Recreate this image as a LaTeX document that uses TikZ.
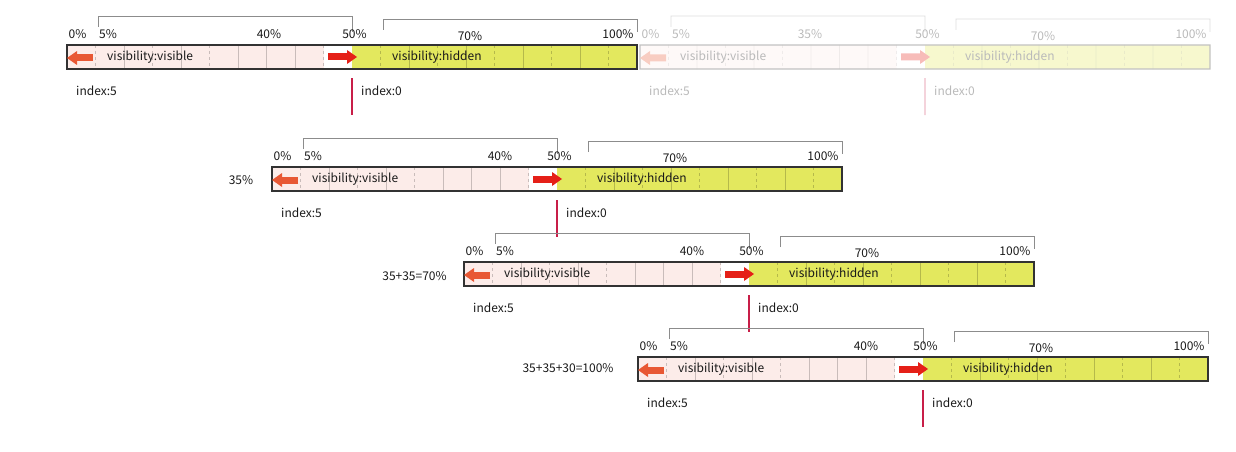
\documentclass[tikz,border=0pt]{standalone}
\usepackage{fontspec}
\setmainfont{Noto Sans CJK SC}
\usepackage{tikz}
\usetikzlibrary{arrows.meta, positioning}
\definecolor{visbg}{RGB}{252,236,233}
\definecolor{hidbg}{RGB}{227,232,94}
\definecolor{outred}{RGB}{232,88,52}
\definecolor{inred}{RGB}{229,32,24}
\definecolor{cutred}{RGB}{200,30,72}
\definecolor{framec}{RGB}{50,50,50}
\definecolor{bracec}{RGB}{140,140,140}

% one bar: name, x0, y0, middle label, its x offset
\newcommand{\visrow}[5]{%
\begin{scope}[shift={(#2,#3)}]
  % ---- fills ----
  \fill[visbg] (0,0) rectangle (256.5,24);
  \fill[hidbg] (285,0) rectangle (570,24);
  % ---- grid ----
  \foreach \k in {2,4,6,7,8,12,14,16,18}
    \draw[tick] (\k*28.5,0) -- (\k*28.5,24);
  \foreach \k in {1,3,5,9,11,13,15,17,19}
    \draw[tick, dashed] (\k*28.5,0) -- (\k*28.5,24);
  \draw[box] (0,0) rectangle (570,24);
  % ---- brackets ----
  \draw[brace] (31,-18) |- (285,-29) -- (285,-13);
  \draw[brace] (316,-15) |- (570,-26) -- (570,-13);
  % ---- cut ----
  \coordinate (#1-cut) at (285,33);
  \draw[cut] (#1-cut) -- ++(0,37);
  % ---- arrows ----
  \draw[outa] (26,13) -- (0,13);
  \draw[ina] (261,12) -- (290,12);
  % ---- percentages ----
  \node[pct] (#1-p0) at (10.5,-11) {0\%};
  \node[pct] (#1-p5) at (41,-11) {5\%};
  \node[pct] (#1-pm) at (#5,-11) {#4};
  \node[pct] (#1-p50) at (287.5,-11) {50\%};
  \node[pct] (#1-p70) at (403,-9) {70\%};
  \node[pct] (#1-p100) at (551,-11) {100\%};
  % ---- texts ----
  \node[lbl, anchor=west] (#1-vis) at (40,12) {visibility:visible};
  \node[lbl, anchor=west] (#1-hid) at (325,12) {visibility:hidden};
  \node[lbl, anchor=west] (#1-i5) at (9,46) {index:5};
  \node[lbl, anchor=west] (#1-i0) at (294,46) {index:0};
\end{scope}}

\begin{document}
\begin{tikzpicture}[
  x=1pt, y=-1pt,
  font=\fontsize{12}{14}\selectfont,
  lbl/.style={inner sep=0pt, text=black!90},
  pct/.style={inner sep=0pt, text=black!90},
  tick/.style={draw=black, draw opacity=.2, line width=.8pt},
  box/.style={draw=framec, line width=1.3pt},
  brace/.style={draw=bracec, line width=.9pt},
  outa/.style={draw=outred, line width=7pt, -{Triangle[length=10pt, width=14pt, line width=0pt]}},
  ina/.style={draw=inred, line width=7pt, -{Triangle[length=10pt, width=14pt, line width=0pt]}},
  cut/.style={draw=cutred, line width=1.1pt}
]
\useasboundingbox (0,0) rectangle (1236,452);

% ---- first state ----
\visrow{r1}{67}{45}{40\%}{202}

% ---- steps ----
\visrow{r2}{272}{167}{40\%}{228}
\visrow{r3}{464}{262}{40\%}{228}
\visrow{r4}{638}{357}{40\%}{228}

% ---- step labels ----
\node[lbl] (s2) at (241,180) {35\%};
\node[lbl] (s3) at (414.5,276) {35+35=70\%};
\node[lbl] (s4) at (568,368) {35+35+30=100\%};

% ---- faded copy of the first state ----
\begin{scope}[transparency group, opacity=.3]
  \visrow{r0}{640}{45}{35\%}{170}
\end{scope}

\end{tikzpicture}
\end{document}
